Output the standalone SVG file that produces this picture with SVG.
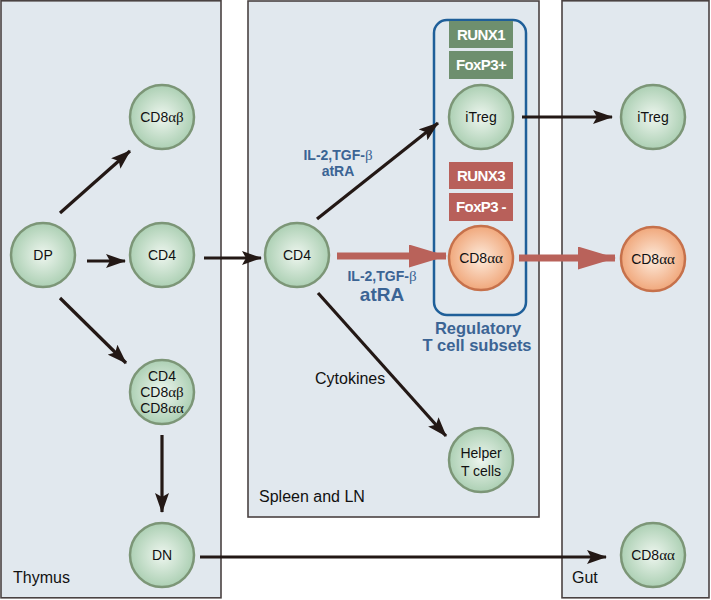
<svg xmlns="http://www.w3.org/2000/svg" width="711" height="600" viewBox="0 0 711 600">
<defs>
<radialGradient id="gg" cx="50%" cy="50%" r="55%">
<stop offset="0" stop-color="#eef6ef"/><stop offset="1" stop-color="#a6ccae"/>
</radialGradient>
<radialGradient id="og" cx="50%" cy="50%" r="55%">
<stop offset="0" stop-color="#fdebdc"/><stop offset="1" stop-color="#efa172"/>
</radialGradient>
<marker id="ah" viewBox="0 0 20 14" refX="19" refY="7" markerWidth="20" markerHeight="14" orient="auto" markerUnits="userSpaceOnUse">
<path d="M0,0 L20,7 L0,14 L4,7 Z" fill="#231815"/>
</marker>
<marker id="rh" viewBox="0 0 38 23" refX="37" refY="11.5" markerWidth="38" markerHeight="23" orient="auto" markerUnits="userSpaceOnUse">
<path d="M0,0 L38,11.5 L0,23 Z" fill="#b9625a"/>
</marker>
<style>
.panel{fill:#e1e8ee;stroke:#4a4242;stroke-width:1.6}
.g{fill:url(#gg);stroke:#7c9677;stroke-width:2.5}
.o{fill:url(#og);stroke:#c6714b;stroke-width:2.5}
.t{font-family:"Liberation Sans",Arial,sans-serif;font-size:14px;fill:#111;text-anchor:middle}
.gr{font-family:"Liberation Serif","Times New Roman",serif;font-size:15px}
.lbl{font-family:"Liberation Sans",Arial,sans-serif;font-size:16px;fill:#111}
.blue{font-family:"Liberation Sans",Arial,sans-serif;font-weight:bold;fill:#3b6494;text-anchor:middle}
.tag{font-family:"Liberation Sans",Arial,sans-serif;font-weight:bold;font-size:15px;fill:#fff;text-anchor:middle;letter-spacing:-0.6px}
.bk{stroke:#231815;stroke-width:3.2;fill:none;marker-end:url(#ah)}
.rd{stroke:#b9625a;stroke-width:7;fill:none;marker-end:url(#rh)}
</style>
</defs>
<g id="panels">
<rect class="panel" x="1" y="0.8" width="220" height="597"/>
<rect class="panel" x="248" y="1" width="291" height="516"/>
<rect class="panel" x="562" y="0.8" width="147" height="597"/>
<text class="lbl" x="13" y="583">Thymus</text>
<text class="lbl" x="259" y="502">Spleen and LN</text>
<text class="lbl" x="572" y="583">Gut</text>
</g>
<g id="regulatory-box">
<rect x="434" y="20" width="92" height="295" rx="13" fill="none" stroke="#1f5f99" stroke-width="2.5"/>
<text class="blue" x="478" y="334" font-size="16.5">Regulatory</text>
<text class="blue" x="477" y="351" font-size="16.5">T cell subsets</text>
</g>
<g id="tags">
<rect x="449" y="21" width="64" height="27" fill="#6e8f6e"/>
<text class="tag" x="481" y="40">RUNX1</text>
<rect x="449" y="51" width="64" height="28" fill="#6e8f6e"/>
<text class="tag" x="481" y="70">FoxP3+</text>
<rect x="449" y="162" width="64" height="27" fill="#b8605a"/>
<text class="tag" x="481" y="181">RUNX3</text>
<rect x="449" y="193" width="64" height="28" fill="#b8605a"/>
<text class="tag" x="481" y="212">FoxP3 -</text>
</g>
<g id="connectors">
<line class="bk" x1="60" y1="213" x2="130" y2="151"/>
<line class="bk" x1="87" y1="261" x2="125" y2="261"/>
<line class="bk" x1="60" y1="298" x2="126" y2="363"/>
<line class="bk" x1="162" y1="435" x2="162" y2="512"/>
<line class="bk" x1="204" y1="258" x2="261" y2="258"/>
<line class="bk" x1="200" y1="557" x2="606" y2="557"/>
<line class="bk" x1="317" y1="219" x2="438" y2="123"/>
<line class="bk" x1="318" y1="293" x2="446" y2="436"/>
<line class="bk" x1="522" y1="117" x2="612" y2="117"/>
<line class="rd" x1="337" y1="256" x2="446" y2="256"/>
<line class="rd" x1="519" y1="258" x2="615" y2="258"/>
<text class="blue" x="338" y="160" font-size="14">IL-2,TGF-<tspan class="gr" font-weight="normal">β</tspan></text>
<text class="blue" x="338" y="176" font-size="14">atRA</text>
<text class="blue" x="382" y="281" font-size="14">IL-2,TGF-<tspan class="gr" font-weight="normal">β</tspan></text>
<text class="blue" x="382" y="301" font-size="19">atRA</text>
<text class="lbl" x="315" y="384" font-size="14.5">Cytokines</text>
</g>
<g id="n-cd8ab"><circle class="g" cx="162" cy="117" r="32"/><text class="t" x="162" y="122">CD8<tspan class="gr">αβ</tspan></text></g>
<g id="n-dp"><circle class="g" cx="43" cy="255" r="32"/><text class="t" x="43" y="260">DP</text></g>
<g id="n-cd4-thymus"><circle class="g" cx="162" cy="255" r="32"/><text class="t" x="162" y="260">CD4</text></g>
<g id="n-cd4-cd8"><circle class="g" cx="162" cy="392" r="32"/>
<text class="t" x="162" y="381" font-size="15">CD4</text>
<text class="t" x="162" y="397" font-size="15">CD8<tspan class="gr" font-size="16">αβ</tspan></text>
<text class="t" x="162" y="413" font-size="15">CD8<tspan class="gr" font-size="16">αα</tspan></text></g>
<g id="n-dn"><circle class="g" cx="162" cy="555" r="32"/><text class="t" x="162" y="560">DN</text></g>
<g id="n-cd4-spleen"><circle class="g" cx="297" cy="255" r="32"/><text class="t" x="297" y="260">CD4</text></g>
<g id="n-itreg-spleen"><circle class="g" cx="481" cy="117" r="32"/><text class="t" x="481" y="122">iTreg</text></g>
<g id="n-cd8aa-spleen"><circle class="o" cx="481" cy="258" r="32"/><text class="t" x="481" y="263">CD8<tspan class="gr">αα</tspan></text></g>
<g id="n-helper"><circle class="g" cx="481" cy="460" r="32"/><text class="t" x="481" y="458">Helper</text><text class="t" x="481" y="476">T cells</text></g>
<g id="n-itreg-gut"><circle class="g" cx="653" cy="117" r="32"/><text class="t" x="653" y="122">iTreg</text></g>
<g id="n-cd8aa-gut-orange"><circle class="o" cx="653" cy="259" r="32"/><text class="t" x="653" y="264">CD8<tspan class="gr">αα</tspan></text></g>
<g id="n-cd8aa-gut"><circle class="g" cx="653" cy="555" r="32"/><text class="t" x="653" y="560">CD8<tspan class="gr">αα</tspan></text></g>
</svg>
